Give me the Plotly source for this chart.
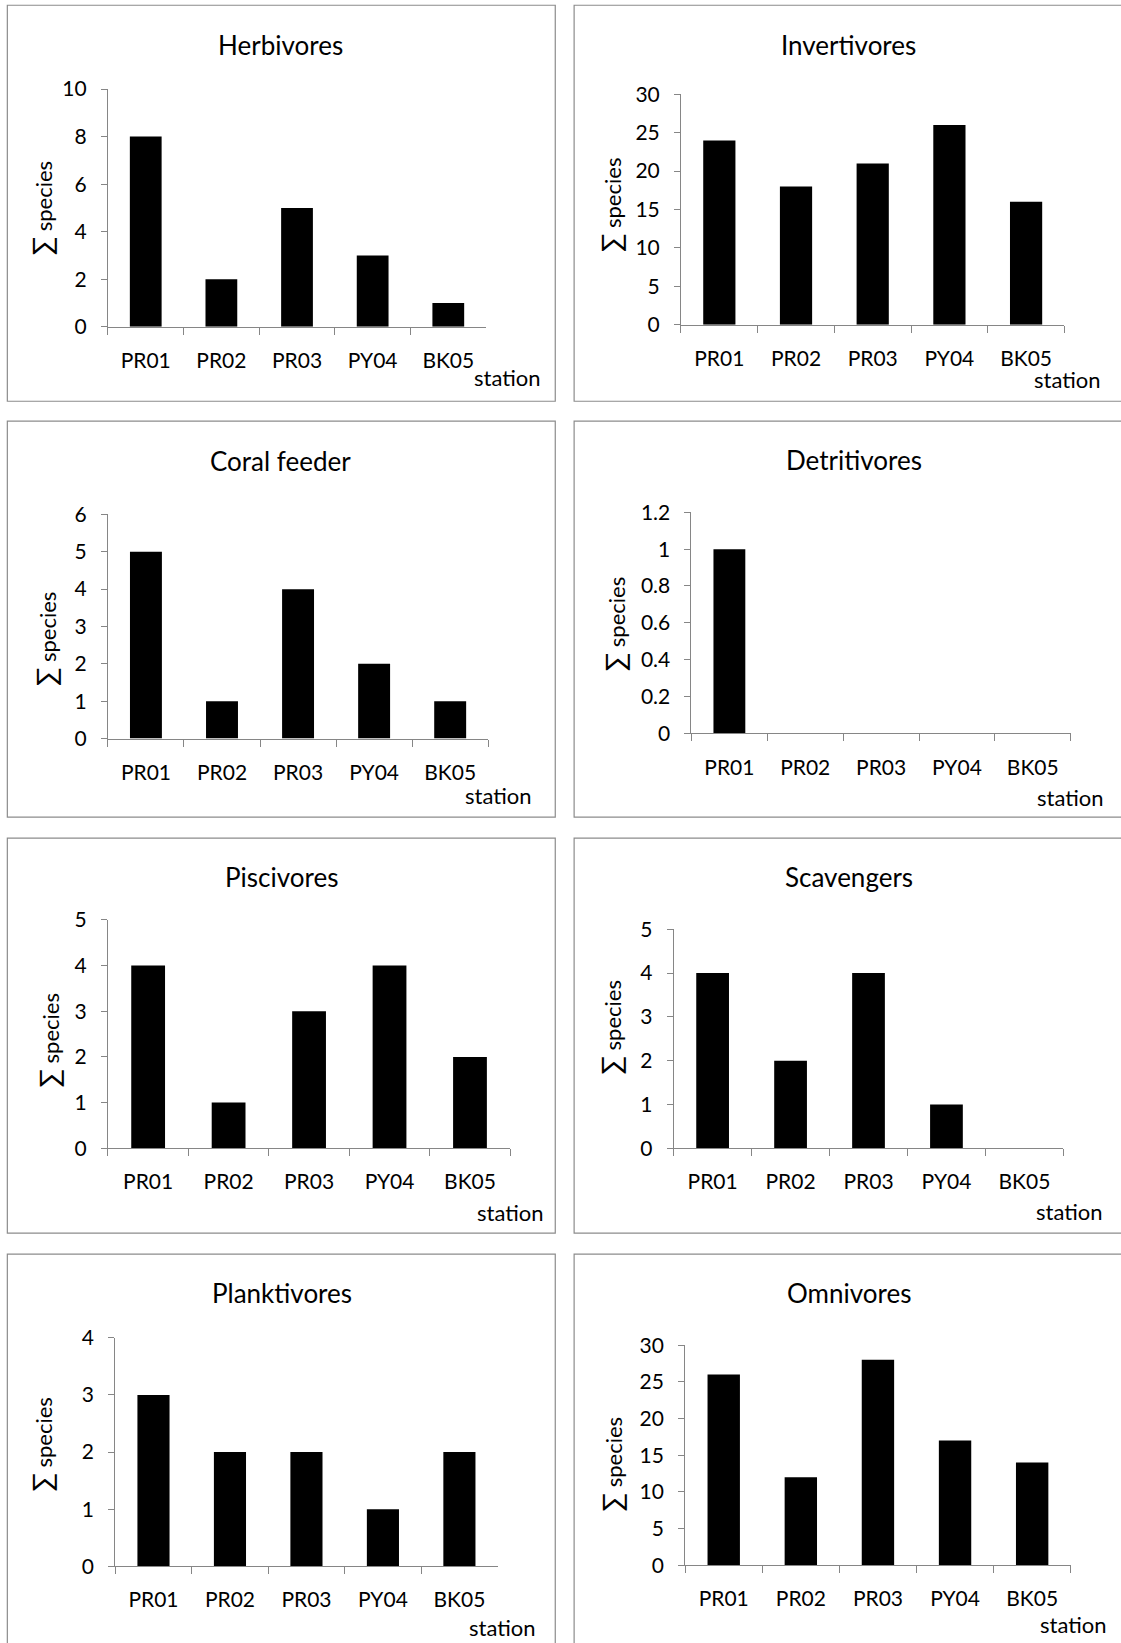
import plotly.graph_objects as go

W, H = 1121, 1643

stations = ["PR01", "PR02", "PR03", "PY04", "BK05"]
titles = ["Herbivores", "Invertivores", "Coral feeder", "Detritivores",
          "Piscivores", "Scavengers", "Planktivores", "Omnivores"]
herbivores = [8, 2, 5, 3, 1]
invertivores = [24, 18, 21, 26, 16]
coral_feeder = [5, 1, 4, 2, 1]
detritivores = [1, 0, 0, 0, 0]
piscivores = [4, 1, 3, 4, 2]
scavengers = [4, 2, 4, 1, 0]
planktivores = [3, 2, 2, 1, 2]
omnivores = [26, 12, 28, 17, 14]
series = [herbivores, invertivores, coral_feeder, detritivores,
          piscivores, scavengers, planktivores, omnivores]
y_max = [10, 30, 6, 1.2, 5, 5, 4, 30]
y_step = [2, 5, 1, 0.2, 1, 1, 1, 5]
y_title = "<span style='font-size:27px'>∑</span> species"
x_title = "station"

# layout geometry in (shrunk) pixels (left, right, top, bottom of plot area)
S = 1121 / 1070
plot_px = [
    (103, 464, 85, 312), (650, 1016, 90, 310),
    (103, 466, 491, 705), (660, 1022, 489, 700),
    (103, 487, 878, 1096), (643, 1015, 887, 1096),
    (110, 475, 1277, 1495), (654, 1022, 1284, 1494),
]
frames_px = [
    (7, 530, 5, 383), (548, 1072, 5, 383),
    (7, 530, 402, 780), (548, 1072, 402, 780),
    (7, 530, 800, 1177), (548, 1072, 800, 1177),
    (7, 530, 1197, 1575), (548, 1072, 1197, 1575),
]
title_px = [(268, 43), (810, 43), (268, 440), (815, 439),
            (269, 837), (810, 837), (269, 1234), (810, 1234)]
station_px = [(484, 360), (1019, 362), (476, 759), (1022, 761),
              (487, 1157), (1021, 1156), (480, 1553), (1025, 1551)]
ytitle_px = [(40, 198), (583, 195), (43, 610), (586, 595),
             (46, 993), (583, 980), (40, 1378), (584, 1397)]

FONT = "Lato, 'Open Sans', sans-serif"
GRAY = "#868686"

def fx(x):
    return x * S / W

def fy(y):
    return 1 - y * S / H

fig = go.Figure()
shapes = []
annotations = []
for i in range(8):
    n = "" if i == 0 else str(i + 1)
    fig.add_trace(go.Bar(
        x=stations, y=series[i], marker=dict(color="black", line=dict(width=0)),
        xaxis="x" + n, yaxis="y" + n, showlegend=False, width=0.42,
    ))
    l, r, t, b = plot_px[i]
    fig.layout["xaxis" + n] = dict(
        domain=[fx(l), fx(r)], anchor="y" + n, type="category",
        range=[-0.5, 4.5], showline=True, linecolor=GRAY, linewidth=1,
        ticks="outside", tickson="boundaries", ticklen=7, tickcolor=GRAY,
        showgrid=False, zeroline=False, ticklabelstandoff=15, automargin=False,
        tickfont=dict(family=FONT, size=21, color="black"),
    )
    fig.layout["yaxis" + n] = dict(
        domain=[fy(b), fy(t)], anchor="x" + n, range=[0, y_max[i]],
        dtick=y_step[i], tick0=0, showline=True, linecolor=GRAY, linewidth=1,
        ticks="outside", ticklen=6, tickcolor=GRAY, showgrid=False,
        zeroline=False, ticklabelstandoff=10, automargin=False,
        tickfont=dict(family=FONT, size=21, color="black"),
    )
    fl, fr, ft, fb = frames_px[i]
    shapes.append(dict(type="rect", xref="paper", yref="paper",
                       x0=fx(fl), x1=fx(fr), y0=fy(fb), y1=fy(ft),
                       line=dict(color="#8c8c8c", width=1.2)))
    tx, ty = title_px[i]
    annotations.append(dict(text=titles[i], x=fx(tx), y=fy(ty), xref="paper",
                            yref="paper", showarrow=False, xanchor="center",
                            yanchor="middle",
                            font=dict(family=FONT, size=26, color="black")))
    sx, sy = station_px[i]
    annotations.append(dict(text=x_title, x=fx(sx), y=fy(sy), xref="paper",
                            yref="paper", showarrow=False, xanchor="center",
                            yanchor="middle",
                            font=dict(family=FONT, size=22, color="black")))
    yx, yy = ytitle_px[i]
    annotations.append(dict(text=y_title, x=fx(yx), y=fy(yy), xref="paper",
                            yref="paper", showarrow=False, xanchor="center",
                            yanchor="middle", textangle=-90,
                            font=dict(family=FONT, size=22, color="black")))

fig.update_layout(
    template="none",
    width=W, height=H, margin=dict(l=0, r=0, t=0, b=0, pad=0, autoexpand=False),
    paper_bgcolor="white", plot_bgcolor="white",
    shapes=shapes, annotations=annotations, bargap=0.58,
)
fig.write_html("out.html", config={"displayModeBar": False})
